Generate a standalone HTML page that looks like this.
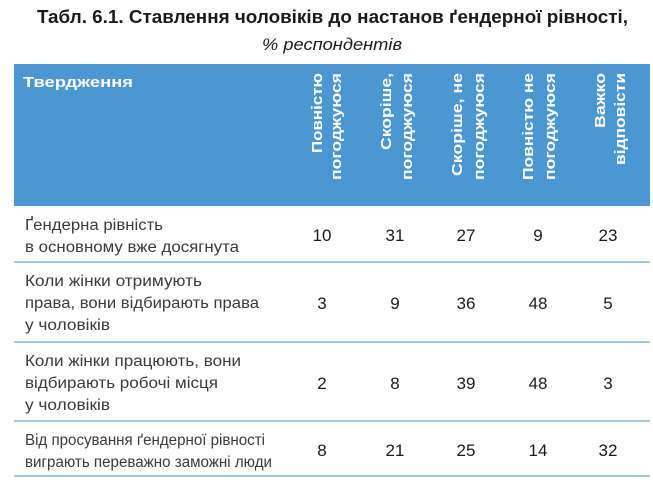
<!DOCTYPE html>
<html><head><meta charset="utf-8"><style>
body{margin:0;background:#fff}
svg{display:block}
text{font-family:"Liberation Sans",sans-serif}
</style></head><body>
<svg width="653" height="486" viewBox="0 0 653 486" xmlns="http://www.w3.org/2000/svg">
<text x="37" y="23" font-size="18" font-weight="bold" fill="#1a1a1a" textLength="591" lengthAdjust="spacingAndGlyphs">Табл. 6.1. Ставлення чоловіків до настанов ґендерної рівності,</text>
<text x="262" y="50" font-size="17" font-style="italic" fill="#1a1a1a" textLength="140" lengthAdjust="spacingAndGlyphs">% респондентів</text>
<rect x="14" y="64" width="636" height="142" fill="#4b97d3"/>
<text x="23" y="87" font-size="15" font-weight="bold" fill="#fff" textLength="110" lengthAdjust="spacingAndGlyphs">Твердження</text>
<g font-size="15" font-weight="bold" fill="#fff" text-anchor="end">
<text transform="translate(322,73) rotate(-90)" textLength="80" lengthAdjust="spacingAndGlyphs">Повністю</text>
<text transform="translate(341,73) rotate(-90)" textLength="107" lengthAdjust="spacingAndGlyphs">погоджуюся</text>
<text transform="translate(391,73) rotate(-90)" textLength="77" lengthAdjust="spacingAndGlyphs">Скоріше,</text>
<text transform="translate(412,73) rotate(-90)" textLength="107" lengthAdjust="spacingAndGlyphs">погоджуюся</text>
<text transform="translate(462,73) rotate(-90)" textLength="103" lengthAdjust="spacingAndGlyphs">Скоріше, не</text>
<text transform="translate(484,73) rotate(-90)" textLength="107" lengthAdjust="spacingAndGlyphs">погоджуюся</text>
<text transform="translate(533,73) rotate(-90)" textLength="107" lengthAdjust="spacingAndGlyphs">Повністю не</text>
<text transform="translate(555,73) rotate(-90)" textLength="107" lengthAdjust="spacingAndGlyphs">погоджуюся</text>
<text transform="translate(605,73) rotate(-90)" textLength="55" lengthAdjust="spacingAndGlyphs">Важко</text>
<text transform="translate(625,73) rotate(-90)" textLength="92" lengthAdjust="spacingAndGlyphs">відповісти</text>
</g>
<g stroke="#86b7df" stroke-width="1.5">
<line x1="14" x2="650" y1="262" y2="262"/>
<line x1="14" x2="650" y1="342" y2="342"/>
<line x1="14" x2="650" y1="421" y2="421"/>
<line x1="14" x2="650" y1="476" y2="476"/>
</g>
<g font-size="15.5" fill="#3a3a3a" lengthAdjust="spacingAndGlyphs">
<text x="25" y="230" textLength="138" lengthAdjust="spacingAndGlyphs">Ґендерна рівність</text>
<text x="25" y="252" textLength="214" lengthAdjust="spacingAndGlyphs">в основному вже досягнута</text>
<text x="25" y="286" textLength="177" lengthAdjust="spacingAndGlyphs">Коли жінки отримують</text>
<text x="25" y="308" textLength="234" lengthAdjust="spacingAndGlyphs">права, вони відбирають права</text>
<text x="25" y="330" textLength="85" lengthAdjust="spacingAndGlyphs">у чоловіків</text>
<text x="25" y="366" textLength="216" lengthAdjust="spacingAndGlyphs">Коли жінки працюють, вони</text>
<text x="25" y="388" textLength="193" lengthAdjust="spacingAndGlyphs">відбирають робочі місця</text>
<text x="25" y="410" textLength="85" lengthAdjust="spacingAndGlyphs">у чоловіків</text>
<text x="25" y="445" textLength="240" lengthAdjust="spacingAndGlyphs">Від просування ґендерної рівності</text>
<text x="25" y="467" textLength="247" lengthAdjust="spacingAndGlyphs">виграють переважно заможні люди</text>
</g>
<g font-size="17" fill="#1a1a1a" text-anchor="middle">
<text x="322" y="241">10</text><text x="395" y="241">31</text><text x="466" y="241">27</text><text x="538" y="241">9</text><text x="608" y="241">23</text>
<text x="322" y="309">3</text><text x="395" y="309">9</text><text x="466" y="309">36</text><text x="538" y="309">48</text><text x="608" y="309">5</text>
<text x="322" y="389">2</text><text x="395" y="389">8</text><text x="466" y="389">39</text><text x="538" y="389">48</text><text x="608" y="389">3</text>
<text x="322" y="456">8</text><text x="395" y="456">21</text><text x="466" y="456">25</text><text x="538" y="456">14</text><text x="608" y="456">32</text>
</g>
</svg>
</body></html>
